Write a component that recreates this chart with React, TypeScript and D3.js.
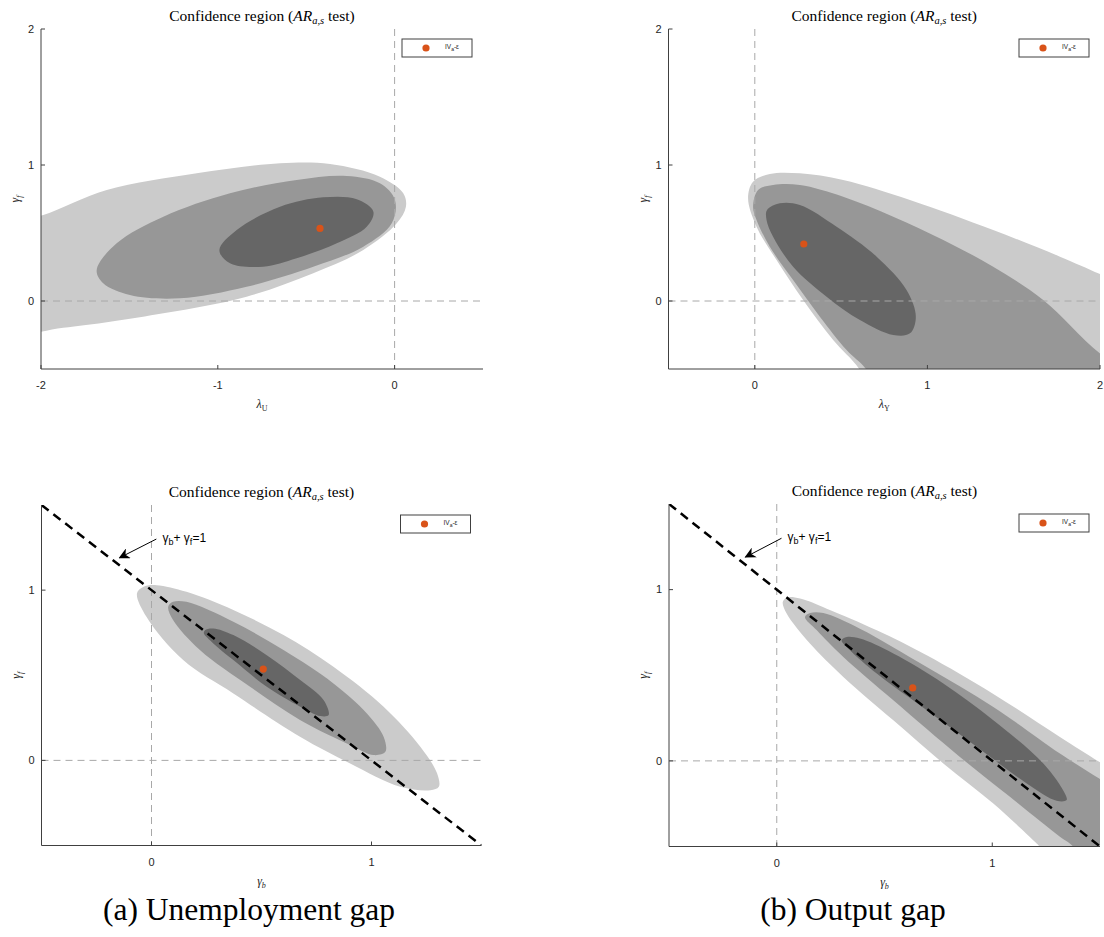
import { useEffect, useRef } from 'react';
import * as d3 from 'd3';

type Pt = [number, number];

// (a) Unemployment gap, top: lambda_U vs gamma_f
const unempLambdaLight: Pt[] = [
  [-1.987, 0.632], [-1.628, 0.816], [-1.119, 0.939], [-0.648, 1.013], [-0.365, 1.007],
  [-0.083, 0.914], [0.049, 0.792], [0.064, 0.693], [0.012, 0.571], [-0.177, 0.375],
  [-0.46, 0.204], [-0.837, 0.032], [-1.308, -0.09], [-1.874, -0.196], [-2.15, -0.21],
  [-2.15, 0.58],
];
const unempLambdaMid: Pt[] = [
  [-1.685, 0.228], [-1.572, 0.424], [-1.308, 0.62], [-0.931, 0.792], [-0.554, 0.89],
  [-0.271, 0.919], [-0.083, 0.865], [0.002, 0.743], [-0.016, 0.571], [-0.177, 0.399],
  [-0.46, 0.252], [-0.837, 0.105], [-1.214, 0.02], [-1.497, 0.044], [-1.648, 0.13],
];
const unempLambdaDark: Pt[] = [
  [-0.991, 0.375], [-0.893, 0.522], [-0.648, 0.693], [-0.403, 0.762], [-0.214, 0.748],
  [-0.12, 0.657], [-0.158, 0.546], [-0.327, 0.424], [-0.554, 0.314], [-0.743, 0.252],
  [-0.931, 0.277],
];
const unempLambdaEstimate: Pt = [-0.422, 0.534];

// (b) Output gap, top: lambda_Y vs gamma_f
const outLambdaLight: Pt[] = [
  [-0.039, 0.755], [-0.01, 0.877], [0.087, 0.934], [0.261, 0.939], [0.512, 0.89],
  [0.899, 0.743], [1.381, 0.522], [1.768, 0.326], [2.012, 0.191], [2.3, 0.02],
  [2.3, -0.8], [0.72, -0.8], [0.609, -0.507], [0.454, -0.287], [0.28, 0.007],
  [0.126, 0.301], [0.01, 0.546],
];
const outLambdaMid: Pt[] = [
  [-0.01, 0.693], [0.019, 0.816], [0.106, 0.853], [0.261, 0.853], [0.512, 0.767],
  [0.802, 0.62], [1.092, 0.449], [1.381, 0.252], [1.671, 0.007], [2.012, -0.397],
  [2.3, -0.6], [2.3, -0.8], [0.76, -0.8], [0.648, -0.507], [0.532, -0.36],
  [0.377, -0.115], [0.222, 0.154], [0.087, 0.399], [0.01, 0.596],
];
const outLambdaDark: Pt[] = [
  [0.071, 0.669], [0.145, 0.718], [0.261, 0.706], [0.474, 0.546], [0.706, 0.326],
  [0.879, 0.081], [0.933, -0.115], [0.899, -0.238], [0.802, -0.25], [0.609, -0.14],
  [0.416, 0.032], [0.222, 0.252], [0.106, 0.473], [0.068, 0.596],
];
const outLambdaEstimate: Pt = [0.284, 0.419];

// (a) Unemployment gap, bottom: gamma_b vs gamma_f
const unempGammaLight: Pt[] = [
  [-0.066, 0.981], [-0.038, 1.019], [0.023, 1.029], [0.159, 0.99], [0.372, 0.883],
  [0.6, 0.736], [0.827, 0.55], [1.055, 0.315], [1.222, 0.08], [1.298, -0.076],
  [1.306, -0.155], [1.268, -0.175], [1.131, -0.155], [0.903, -0.018], [0.675, 0.139],
  [0.372, 0.393], [0.144, 0.589], [-0.023, 0.843],
];
const unempGammaMid: Pt[] = [
  [0.076, 0.902], [0.098, 0.931], [0.159, 0.931], [0.372, 0.814], [0.6, 0.648],
  [0.827, 0.452], [0.979, 0.276], [1.055, 0.139], [1.063, 0.05], [1.01, 0.031],
  [0.903, 0.09], [0.675, 0.237], [0.448, 0.432], [0.22, 0.648], [0.098, 0.824],
];
const unempGammaDark: Pt[] = [
  [0.243, 0.765], [0.281, 0.775], [0.372, 0.736], [0.524, 0.618], [0.676, 0.472],
  [0.782, 0.354], [0.805, 0.266], [0.767, 0.26], [0.676, 0.315], [0.524, 0.432],
  [0.372, 0.589], [0.281, 0.687], [0.238, 0.746],
];
const unempGammaEstimate: Pt = [0.508, 0.536];

// (b) Output gap, bottom: gamma_b vs gamma_f
const outGammaLight: Pt[] = [
  [0.028, 0.928], [0.046, 0.953], [0.108, 0.948], [0.232, 0.889], [0.464, 0.763],
  [0.696, 0.617], [1.005, 0.391], [1.314, 0.14], [1.509, -0.015], [1.75, -0.2],
  [1.75, -0.85], [1.4, -0.8], [1.221, -0.502], [1.19, -0.463], [1.005, -0.249],
  [0.773, -0.015], [0.541, 0.237], [0.309, 0.49], [0.154, 0.685], [0.046, 0.86],
];
const outGammaMid: Pt[] = [
  [0.131, 0.84], [0.155, 0.863], [0.216, 0.863], [0.386, 0.772], [0.696, 0.548],
  [1.005, 0.315], [1.314, 0.043], [1.509, -0.113], [1.75, -0.3], [1.75, -0.85],
  [1.5, -0.8], [1.376, -0.502], [1.314, -0.443], [1.082, -0.21], [0.85, 0.023],
  [0.541, 0.354], [0.309, 0.607], [0.186, 0.763],
];
const outGammaDark: Pt[] = [
  [0.301, 0.704], [0.325, 0.723], [0.386, 0.714], [0.541, 0.627], [0.773, 0.452],
  [1.005, 0.237], [1.237, -0.015], [1.337, -0.19], [1.345, -0.229], [1.299, -0.233],
  [1.16, -0.132], [0.928, 0.082], [0.696, 0.296], [0.464, 0.51], [0.34, 0.646],
];
const outGammaEstimate: Pt = [0.631, 0.426];

const topXTicksU = [-2, -1, 0];
const topXTicksY = [0, 1, 2];
const topYTicks = [0, 1, 2];
const bottomTicks = [0, 1];
const unitLine: Pt[] = [[-0.5, 1.5], [1.5, -0.5]];
const arrowFrom: Pt = [0.022, 1.3];
const arrowTo: Pt = [-0.145, 1.19];
const arrowText: Pt = [0.05, 1.285];

const titleMain = 'Confidence region (';
const captions = ['(a) Unemployment gap', '(b) Output gap'];

const FILLS = ['#cbcbcb', '#979797', '#666666'];
const ORANGE = '#d95319';
const AXIS = '#404040';
const SERIF = '"Liberation Serif", "Times New Roman", serif';
const SANS = '"Liberation Sans", Arial, sans-serif';

interface PanelSpec {
  id: string;
  box: { left: number; right: number; top: number; bottom: number };
  xDomain: [number, number];
  yDomain: [number, number];
  xTicks: number[];
  yTicks: number[];
  xSym: string;
  xSub: string;
  xSubItalic: boolean;
  regions: Pt[][];
  estimate: Pt;
  showUnitLine: boolean;
}

const panels: PanelSpec[] = [
  {
    id: 'p1', box: { left: 41, right: 483, top: 29, bottom: 369 },
    xDomain: [-2, 0.5], yDomain: [-0.5, 2], xTicks: topXTicksU, yTicks: topYTicks,
    xSym: 'λ', xSub: 'U', xSubItalic: false,
    regions: [unempLambdaLight, unempLambdaMid, unempLambdaDark], estimate: unempLambdaEstimate,
    showUnitLine: false,
  },
  {
    id: 'p2', box: { left: 668.5, right: 1100, top: 29, bottom: 369 },
    xDomain: [-0.5, 2], yDomain: [-0.5, 2], xTicks: topXTicksY, yTicks: topYTicks,
    xSym: 'λ', xSub: 'Y', xSubItalic: false,
    regions: [outLambdaLight, outLambdaMid, outLambdaDark], estimate: outLambdaEstimate,
    showUnitLine: false,
  },
  {
    id: 'p3', box: { left: 41.5, right: 481.5, top: 505, bottom: 845.5 },
    xDomain: [-0.5, 1.5], yDomain: [-0.5, 1.5], xTicks: bottomTicks, yTicks: bottomTicks,
    xSym: 'γ', xSub: 'b', xSubItalic: true,
    regions: [unempGammaLight, unempGammaMid, unempGammaDark], estimate: unempGammaEstimate,
    showUnitLine: true,
  },
  {
    id: 'p4', box: { left: 669, right: 1100, top: 504, bottom: 846.5 },
    xDomain: [-0.5, 1.5], yDomain: [-0.5, 1.5], xTicks: bottomTicks, yTicks: bottomTicks,
    xSym: 'γ', xSub: 'b', xSubItalic: true,
    regions: [outGammaLight, outGammaMid, outGammaDark], estimate: outGammaEstimate,
    showUnitLine: true,
  },
];

function drawPanel(svg: d3.Selection<SVGSVGElement, unknown, null, undefined>, p: PanelSpec) {
  const { left, right, top, bottom } = p.box;
  const x = d3.scaleLinear().domain(p.xDomain).range([left, right]);
  const y = d3.scaleLinear().domain(p.yDomain).range([bottom, top]);

  svg.append('defs').append('clipPath').attr('id', `clip-${p.id}`)
    .append('rect').attr('x', left).attr('y', top).attr('width', right - left).attr('height', bottom - top);

  const g = svg.append('g').attr('clip-path', `url(#clip-${p.id})`);
  const area = d3.line<Pt>().x(d => x(d[0])).y(d => y(d[1])).curve(d3.curveCatmullRomClosed.alpha(0.5));

  p.regions.forEach((reg, i) => {
    g.append('path').attr('d', area(reg)).attr('fill', FILLS[i]).attr('stroke', 'none');
  });

  // zero reference lines
  g.append('line')
    .attr('x1', left).attr('x2', right).attr('y1', y(0)).attr('y2', y(0))
    .attr('stroke', '#a8a8a8').attr('stroke-width', 1).attr('stroke-dasharray', '7,5');
  g.append('line')
    .attr('x1', x(0)).attr('x2', x(0)).attr('y1', top).attr('y2', bottom)
    .attr('stroke', '#a8a8a8').attr('stroke-width', 1).attr('stroke-dasharray', '7,5');

  if (p.showUnitLine) {
    g.append('path')
      .attr('d', d3.line<Pt>().x(d => x(d[0])).y(d => y(d[1]))(unitLine))
      .attr('stroke', '#000').attr('stroke-width', 2.5).attr('stroke-dasharray', '9,6').attr('fill', 'none');
  }

  svg.append('circle')
    .attr('cx', x(p.estimate[0])).attr('cy', y(p.estimate[1])).attr('r', 3.6).attr('fill', ORANGE);

  // axes
  svg.append('path')
    .attr('d', `M${left},${top}V${bottom}H${right}`)
    .attr('stroke', AXIS).attr('stroke-width', 1).attr('fill', 'none');
  p.xTicks.forEach(t => {
    svg.append('line').attr('x1', x(t)).attr('x2', x(t)).attr('y1', bottom).attr('y2', bottom - 4)
      .attr('stroke', AXIS).attr('stroke-width', 1);
    svg.append('text').attr('x', x(t)).attr('y', bottom + 20).attr('text-anchor', 'middle')
      .attr('font-family', SANS).attr('font-size', 11).attr('fill', '#262626').text(`${t}`);
  });
  p.yTicks.forEach(t => {
    svg.append('line').attr('x1', left).attr('x2', left + 4).attr('y1', y(t)).attr('y2', y(t))
      .attr('stroke', AXIS).attr('stroke-width', 1);
    svg.append('text').attr('x', left - 7).attr('y', y(t)).attr('dy', '0.35em').attr('text-anchor', 'end')
      .attr('font-family', SANS).attr('font-size', 11).attr('fill', '#262626').text(`${t}`);
  });

  // axis labels
  const cx = (left + right) / 2;
  const xl = svg.append('text').attr('x', cx).attr('y', bottom + 39).attr('text-anchor', 'middle')
    .attr('font-family', SERIF).attr('font-size', 12).attr('fill', '#262626');
  xl.append('tspan').attr('font-style', 'italic').text(p.xSym);
  xl.append('tspan').attr('font-size', 8).attr('dy', 3)
    .attr('font-style', p.xSubItalic ? 'italic' : 'normal').text(p.xSub);

  const cy = (top + bottom) / 2;
  const yl = svg.append('text').attr('transform', `translate(${left - 22},${cy}) rotate(-90)`)
    .attr('text-anchor', 'middle').attr('font-family', SERIF).attr('font-size', 12).attr('fill', '#262626');
  yl.append('tspan').attr('font-style', 'italic').text('γ');
  yl.append('tspan').attr('font-size', 8).attr('dy', 3).attr('font-style', 'italic').text('f');

  // title
  const tt = svg.append('text').attr('x', cx).attr('y', top - 8).attr('text-anchor', 'middle')
    .attr('font-family', SERIF).attr('font-size', 15.5).attr('fill', '#000');
  tt.append('tspan').text(titleMain);
  tt.append('tspan').attr('font-style', 'italic').text('AR');
  tt.append('tspan').attr('font-style', 'italic').attr('font-size', 10.5).attr('dy', 3).text('a,s');
  tt.append('tspan').attr('dy', -3).text(' test)');

  // legend
  const lx = right - 81;
  const ly = top + 10;
  svg.append('rect').attr('x', lx).attr('y', ly).attr('width', 70).attr('height', 18)
    .attr('fill', '#fff').attr('stroke', AXIS).attr('stroke-width', 1);
  svg.append('circle').attr('cx', lx + 24).attr('cy', ly + 9).attr('r', 3.6).attr('fill', ORANGE);
  const lt = svg.append('text').attr('x', lx + 43).attr('y', ly + 10).attr('font-family', SANS)
    .attr('font-size', 6.5).attr('fill', '#262626');
  lt.append('tspan').text('IV');
  lt.append('tspan').attr('font-size', 5).attr('dy', 2).text('a');
  lt.append('tspan').attr('dy', -2).text('-ε');

  if (p.showUnitLine) {
    const defsId = `arrow-${p.id}`;
    svg.append('defs').append('marker').attr('id', defsId)
      .attr('viewBox', '0 0 10 10').attr('refX', 9).attr('refY', 5)
      .attr('markerWidth', 11).attr('markerHeight', 11).attr('markerUnits', 'userSpaceOnUse')
      .attr('orient', 'auto')
      .append('path').attr('d', 'M0,0L10,5L0,10L3,5Z').attr('fill', '#000');
    svg.append('line')
      .attr('x1', x(arrowFrom[0])).attr('y1', y(arrowFrom[1]))
      .attr('x2', x(arrowTo[0])).attr('y2', y(arrowTo[1]))
      .attr('stroke', '#000').attr('stroke-width', 1).attr('marker-end', `url(#${defsId})`);
    const at = svg.append('text').attr('x', x(arrowText[0])).attr('y', y(arrowText[1]))
      .attr('font-family', SANS).attr('font-size', 12).attr('fill', '#000');
    at.append('tspan').text('γ');
    at.append('tspan').attr('font-size', 9).attr('dy', 3).text('b');
    at.append('tspan').attr('dy', -3).text('+ γ');
    at.append('tspan').attr('font-size', 9).attr('dy', 3).text('f');
    at.append('tspan').attr('dy', -3).text('=1');
  }
}

export default function App() {
  const svgRef = useRef<SVGSVGElement>(null);
  const width = 1104;
  const height = 937;

  useEffect(() => {
    if (!svgRef.current) return;
    const svg = d3.select(svgRef.current);
    svg.selectAll('*').remove();

    svg.append('rect').attr('width', width).attr('height', height).attr('fill', '#fff');

    panels.forEach(p => drawPanel(svg, p));

    // sub-figure captions
    const capX = [249, 853];
    captions.forEach((c, i) => {
      svg.append('text').attr('x', capX[i]).attr('y', 920).attr('text-anchor', 'middle')
        .attr('font-family', SERIF).attr('font-size', 31.5).attr('fill', '#000').text(c);
    });
  }, []);

  return (
    <svg ref={svgRef} width={width} height={height}
      style={{ position: 'absolute', left: 0, top: 0, display: 'block' }} />
  );
}
